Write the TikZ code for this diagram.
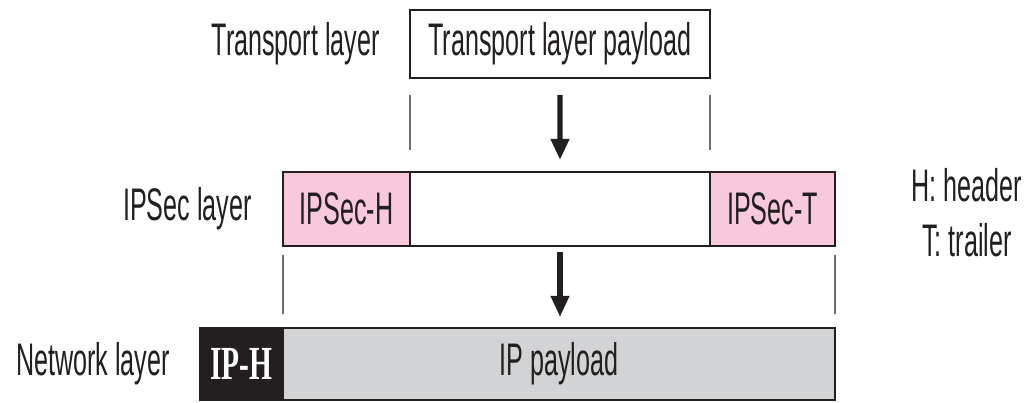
\documentclass[tikz,border=0pt]{standalone}
\usepackage{fontspec}
\setmainfont{Liberation Sans}[FakeStretch=0.55]
\newfontfamily\hdrfont{Liberation Serif}[FakeStretch=0.62]
\usetikzlibrary{positioning}
\usetikzlibrary{arrows.meta}
\definecolor{ipsecpink}{RGB}{248,200,220}
\definecolor{paygray}{RGB}{210,211,213}
\definecolor{inkblack}{RGB}{35,31,32}
\tikzset{
    field/.style = {rectangle, draw=inkblack, line width=1.1pt, inner sep=0pt, outer sep=0pt, minimum height=1.44cm, font=\fontsize{26}{30}\selectfont, text=inkblack},
    fieldp/.style = {field, fill=ipsecpink},
    fieldg/.style = {field, fill=paygray},
    fieldk/.style = {field, fill=inkblack, text=white, font=\hdrfont\bfseries\fontsize{27}{30}\selectfont},
    layer/.style = {inner sep=0pt, font=\fontsize{26}{30}\selectfont, text=inkblack},
    tick/.style = {line width=0.8pt, draw=inkblack},
    downarrow/.style = {-{Triangle[length=12pt,width=10pt]}, line width=3pt, draw=inkblack},
}

\begin{document}
\begin{tikzpicture}
\useasboundingbox (0,0) rectangle (20.5,-8.06);
% transport layer
\node[field, minimum width=6cm, minimum height=1.36cm] at (11.2,-0.88) (tpay) {Transport layer payload};
\node[layer, left=0.6cm of tpay] (tlay) {Transport layer};
% ipsec layer
\node[fieldp, minimum width=2.54cm, minimum height=1.48cm] at (6.93,-4.18) (ipsh) {IPSec-H};
\node[field, minimum width=6cm, minimum height=1.48cm, right=0pt of ipsh] (ipsm) {};
\node[fieldp, minimum width=2.5cm, minimum height=1.48cm, right=0pt of ipsm] (ipst) {IPSec-T};
\node[layer, left=0.62cm of ipsh] (ilay) {IPSec layer};
\node[layer, align=center, font=\fontsize{26}{31}\selectfont] at (19.34,-4.25) (legend) {H: header\\T: trailer};
% network layer
\node[fieldk, minimum width=1.66cm] at (4.83,-7.28) (iph) {IP-H};
\node[fieldg, minimum width=11.04cm, right=0pt of iph] (ipp) {IP payload};
\node[layer, left=0.6cm of iph] (nlay) {Network layer};
%
\draw[tick, shorten <=0.34cm, shorten >=0.44cm] (tpay.south west) -- (ipsh.north east);
\draw[tick, shorten <=0.34cm, shorten >=0.44cm] (tpay.south east) -- (ipst.north west);
\draw[downarrow, shorten <=0.34cm, shorten >=0.24cm] (tpay.south) -- (ipsm.north);
\draw[tick, shorten <=0.18cm, shorten >=0.28cm] (ipsh.south west) -- (iph.north east);
\draw[tick, shorten <=0.18cm, shorten >=0.28cm] (ipst.south east) -- (ipp.north east);
\draw[downarrow, shorten <=0.12cm, shorten >=0.22cm] (ipsm.south) -- (ipsm.south |- ipp.north);
\end{tikzpicture}
\end{document}
